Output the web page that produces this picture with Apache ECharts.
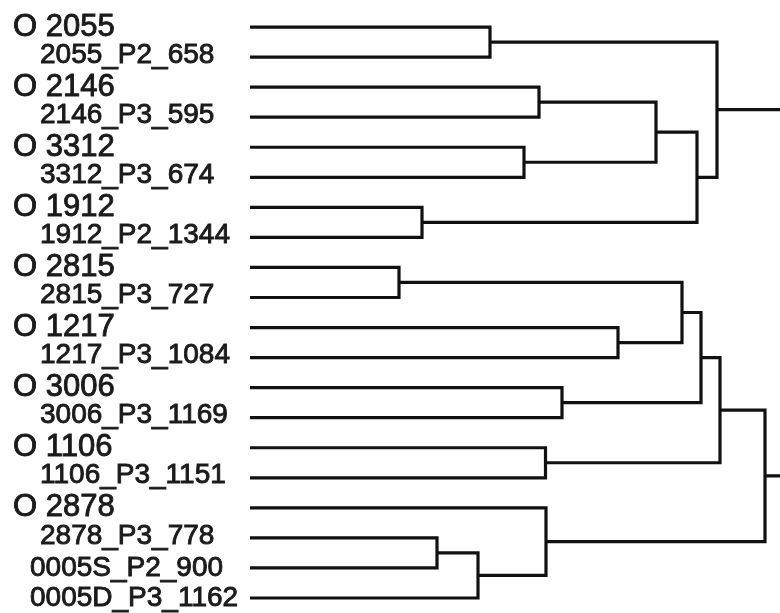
<!DOCTYPE html>
<html>
<head>
<meta charset="utf-8">
<script src="https://cdn.jsdelivr.net/npm/echarts@6/dist/echarts.min.js"></script>
<style>
html,body{margin:0;padding:0;background:#fff;}
#chart{width:780px;height:613px;}
</style>
</head>
<body>
<div id="chart"></div>
<script>
// Leaf labels, in display order (top to bottom)
const leaves = [
  'O 2055', '2055_P2_658',
  'O 2146', '2146_P3_595',
  'O 3312', '3312_P3_674',
  'O 1912', '1912_P2_1344',
  'O 2815', '2815_P3_727',
  'O 1217', '1217_P3_1084',
  'O 3006', '3006_P3_1169',
  'O 1106', '1106_P3_1151',
  'O 2878', '2878_P3_778',
  '0005S_P2_900', '0005D_P3_1162'
];
// Linkage: [childA, childB, height]; ids < 20 are leaves, id 20+k is merge k
const mergeA = [8, 6, 17, 22, 0, 4, 2, 14, 16, 12, 10, 26, 20, 31, 32, 24, 34, 36, 35];
const mergeB = [9, 7, 18, 19, 1, 5, 3, 15, 23, 13, 11, 25, 30, 21, 29, 33, 27, 28, 37];
const mergeHeight = [0.298, 0.344, 0.374, 0.456, 0.480, 0.548, 0.578, 0.591, 0.592,
                     0.624, 0.736, 0.812, 0.864, 0.894, 0.902, 0.934, 0.940, 1.030, 1.100];

const n = leaves.length;
const nodeH = [], nodeY = [];
for (let i = 0; i < n; i++) { nodeH[i] = 0; nodeY[i] = i; }
const linkData = [];
for (let k = 0; k < mergeA.length; k++) {
  const a = mergeA[k], b = mergeB[k], h = mergeHeight[k];
  nodeH[n + k] = h;
  nodeY[n + k] = (nodeY[a] + nodeY[b]) / 2;
  linkData.push([nodeH[a], nodeY[a], h, nodeY[b], nodeH[b]]);
}

const txt = { fontFamily: 'Liberation Sans', color: '#1a1a1a', textBorderColor: '#1a1a1a', textBorderWidth: 0.9 };
const chart = echarts.init(document.getElementById('chart'));
chart.setOption({
  backgroundColor: '#ffffff',
  animation: false,
  grid: { left: 250, right: 0, top: 12, bottom: 0, containLabel: false },
  xAxis: {
    type: 'value', min: 0, max: 1.06,
    show: false, splitLine: { show: false }
  },
  yAxis: [
    {
      type: 'category', data: leaves, inverse: true,
      axisLine: { show: false }, axisTick: { show: false }, splitLine: { show: false },
      axisLabel: {
        align: 'left', margin: 237, interval: 0,
        formatter: function (v) {
          if (v.indexOf('O ') === 0) return '{o|' + v + '}';
          if (/^\d{4}[A-Z]_/.test(v)) return '{q|' + v + '}';
          return '{p|' + v + '}';
        },
        rich: {
          o: Object.assign({ fontSize: 31 }, txt),
          p: Object.assign({ fontSize: 28, padding: [0, 0, 4, 27] }, txt),
          q: Object.assign({ fontSize: 28, padding: [0, 0, 0, 17] }, txt)
        }
      }
    },
    {
      type: 'value', min: -0.5, max: 19.5, inverse: true, show: false,
      splitLine: { show: false }
    }
  ],
  series: [{
    type: 'custom',
    xAxisIndex: 0,
    yAxisIndex: 1,
    clip: true,
    silent: true,
    data: linkData,
    encode: { x: [0, 2, 4], y: [1, 3] },
    renderItem: function (params, api) {
      const p1 = api.coord([api.value(0), api.value(1)]);
      const p2 = api.coord([api.value(2), api.value(1)]);
      const p3 = api.coord([api.value(2), api.value(3)]);
      const p4 = api.coord([api.value(4), api.value(3)]);
      return {
        type: 'polyline',
        shape: { points: [p1, p2, p3, p4] },
        style: { stroke: '#111111', lineWidth: 3.2, fill: null, lineJoin: 'miter', lineCap: 'butt' }
      };
    }
  }]
});
</script>
</body>
</html>
